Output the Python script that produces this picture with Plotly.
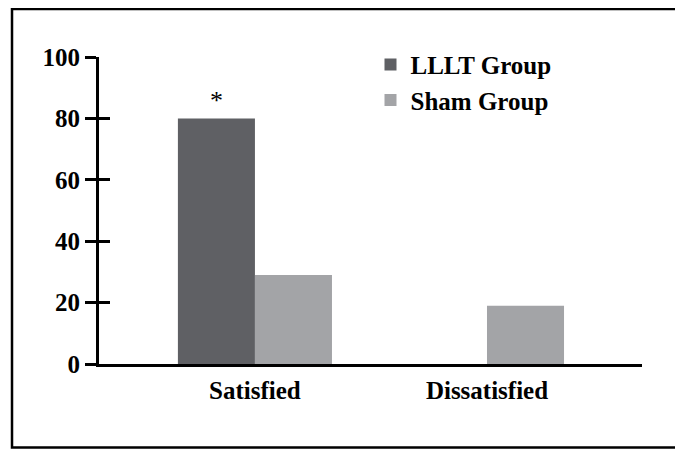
import plotly.graph_objects as go

categories = ["Satisfied", "Dissatisfied"]
lllt_values = [80, 0]
sham_values = [29, 19]
lllt_marks = ["*", ""]
y_ticks = [0, 20, 40, 60, 80, 100]

FONT = "Liberation Serif"

fig = go.Figure()
fig.add_trace(go.Bar(
    x=categories, y=lllt_values, name="<b>LLLT Group</b>",
    marker=dict(color="#5f6064", line=dict(width=0)),
    text=lllt_marks, textposition="outside", cliponaxis=False,
    textfont=dict(family=FONT, size=26, color="black"),
))
fig.add_trace(go.Bar(
    x=categories, y=sham_values, name="<b>Sham Group</b>",
    marker=dict(color="#a3a4a7", line=dict(width=0)),
    cliponaxis=False,
))
# invisible trace to carry the inside half of the crossing ticks
fig.add_trace(go.Scatter(x=[categories[0]], y=[0], yaxis="y2", mode="markers",
                         marker=dict(opacity=0), showlegend=False, hoverinfo="skip"))

fig.update_layout(
    width=675, height=441,
    margin=dict(l=91, r=41, t=49, b=85),
    paper_bgcolor="white", plot_bgcolor="white",
    barmode="group", bargap=0.336, bargroupgap=0,
    font=dict(family=FONT, color="black"),
    showlegend=True,
    legend=dict(x=0.5, y=1.05, xanchor="left", yanchor="top",
                font=dict(family=FONT, size=25, color="black"),
                bgcolor="rgba(0,0,0,0)", tracegroupgap=0, itemwidth=30),
    xaxis=dict(range=[-0.672, 1.668], showline=True, linecolor="black", linewidth=3,
               ticks="", showgrid=False, zeroline=False,
               tickfont=dict(family=FONT, size=25, color="black"),
               tickvals=categories, ticktext=["<b>%s</b>" % c for c in categories],
               ticklabelstandoff=2),
    yaxis=dict(range=[0, 100], showline=True, linecolor="black", linewidth=3,
               ticks="outside", ticklen=11, tickwidth=3, tickcolor="black",
               tickvals=y_ticks, ticktext=["<b>%d</b>" % v for v in y_ticks],
               tickfont=dict(family=FONT, size=25, color="black"),
               showgrid=False, zeroline=False, ticklabelstandoff=0),
    yaxis2=dict(range=[0, 100], overlaying="y", side="left", anchor="x",
                ticks="inside", ticklen=11, tickwidth=3, tickcolor="black",
                tickvals=y_ticks, showticklabels=False, showgrid=False,
                zeroline=False, showline=False),
    shapes=[dict(type="rect", xref="paper", yref="paper",
                 x0=-0.1602, x1=1.0645, y0=-0.2720, y1=1.1564,
                 line=dict(color="black", width=2.5), fillcolor="rgba(0,0,0,0)",
                 layer="below")],
)

fig.write_html("out.html")
